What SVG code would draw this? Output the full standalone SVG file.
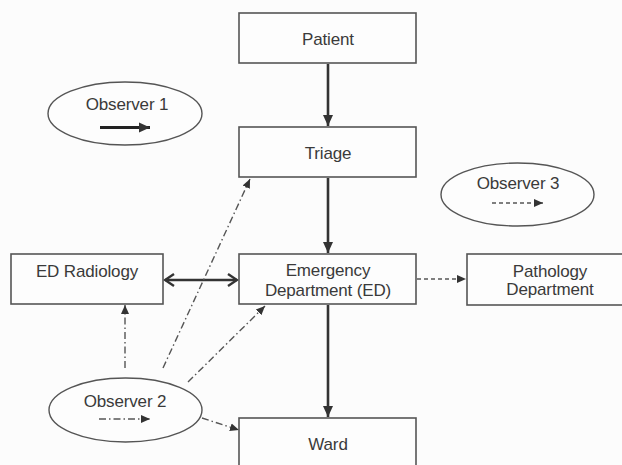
<svg xmlns="http://www.w3.org/2000/svg" width="622" height="465" viewBox="0 0 622 465">
<style>
.box{fill:#fdfdfd;stroke:#555;stroke-width:1.6}
.ell{fill:#fdfdfd;stroke:#555;stroke-width:1.4}
.t{font-family:"Liberation Sans",Arial,sans-serif;font-size:17px;letter-spacing:-0.15px;fill:#3a3a3a;text-anchor:middle}
.main{stroke:#333;stroke-width:2.6;fill:none}
.dd{stroke:#555;stroke-width:1.4;fill:none;stroke-dasharray:7 3 1.5 3}
.dash{stroke:#555;stroke-width:1.4;fill:none;stroke-dasharray:4 3}
</style>
<defs>
<marker id="big" markerUnits="userSpaceOnUse" markerWidth="12" markerHeight="12" refX="11" refY="6" orient="auto">
<path d="M0,1 L11,6 L0,11 Z" fill="#333"/>
</marker>
<marker id="sm" markerUnits="userSpaceOnUse" markerWidth="10" markerHeight="10" refX="9" refY="5" orient="auto">
<path d="M0,1 L9,5 L0,9 Z" fill="#333"/>
</marker>
<marker id="open" markerUnits="userSpaceOnUse" markerWidth="12" markerHeight="14" refX="10" refY="7" orient="auto-start-reverse">
<path d="M1,1 L10,7 L1,13" fill="none" stroke="#333" stroke-width="2.4"/>
</marker>
</defs>
<rect width="622" height="465" fill="#fcfcfc"/>
<g id="connectors">
<line class="main" x1="328" y1="64" x2="328" y2="126" marker-end="url(#big)"/>
<line class="main" x1="328" y1="178" x2="328" y2="253" marker-end="url(#big)"/>
<line class="main" x1="328" y1="305" x2="328" y2="417" marker-end="url(#big)"/>
<line class="main" x1="165" y1="280" x2="237" y2="280" marker-start="url(#open)" marker-end="url(#open)"/>
<line class="dash" x1="417" y1="279" x2="466" y2="279" marker-end="url(#sm)"/>
<line class="dd" x1="125" y1="368" x2="125" y2="305" marker-end="url(#sm)"/>
<line class="dd" x1="163" y1="368" x2="250" y2="179" marker-end="url(#sm)"/>
<line class="dd" x1="188" y1="382" x2="265" y2="306" marker-end="url(#sm)"/>
<line class="dd" x1="202" y1="418" x2="239" y2="430" marker-end="url(#sm)"/>
</g>
<g id="patient">
<rect class="box" x="239" y="13" width="177" height="50"/>
<text class="t" x="328" y="45">Patient</text>
</g>
<g id="triage">
<rect class="box" x="239" y="127" width="177" height="50"/>
<text class="t" x="328" y="159">Triage</text>
</g>
<g id="ed">
<rect class="box" x="239" y="254" width="177" height="50"/>
<text class="t" x="328" y="276">Emergency</text>
<text class="t" x="328" y="296">Department (ED)</text>
</g>
<g id="ward">
<rect class="box" x="239" y="418" width="177" height="60"/>
<text class="t" x="328" y="450">Ward</text>
</g>
<g id="radiology">
<rect class="box" x="11" y="254" width="152" height="50"/>
<text class="t" x="87" y="277">ED Radiology</text>
</g>
<g id="pathology">
<rect class="box" x="467" y="254" width="165" height="51"/>
<text class="t" x="550" y="277">Pathology</text>
<text class="t" x="550" y="295">Department</text>
</g>
<g id="observer1">
<ellipse class="ell" cx="125" cy="113.5" rx="77" ry="31.5"/>
<text class="t" x="127" y="110">Observer 1</text>
<line x1="100" y1="127.5" x2="150" y2="127.5" stroke="#222" stroke-width="3" marker-end="url(#big)"/>
</g>
<g id="observer2">
<ellipse class="ell" cx="125.5" cy="410" rx="76.5" ry="32"/>
<text class="t" x="125" y="407">Observer 2</text>
<line class="dd" x1="99" y1="419" x2="150" y2="419" marker-end="url(#sm)"/>
</g>
<g id="observer3">
<ellipse class="ell" cx="517.5" cy="194.5" rx="76.5" ry="31.5"/>
<text class="t" x="518" y="189">Observer 3</text>
<line class="dash" x1="492" y1="203" x2="543" y2="203" marker-end="url(#sm)"/>
</g>
</svg>
